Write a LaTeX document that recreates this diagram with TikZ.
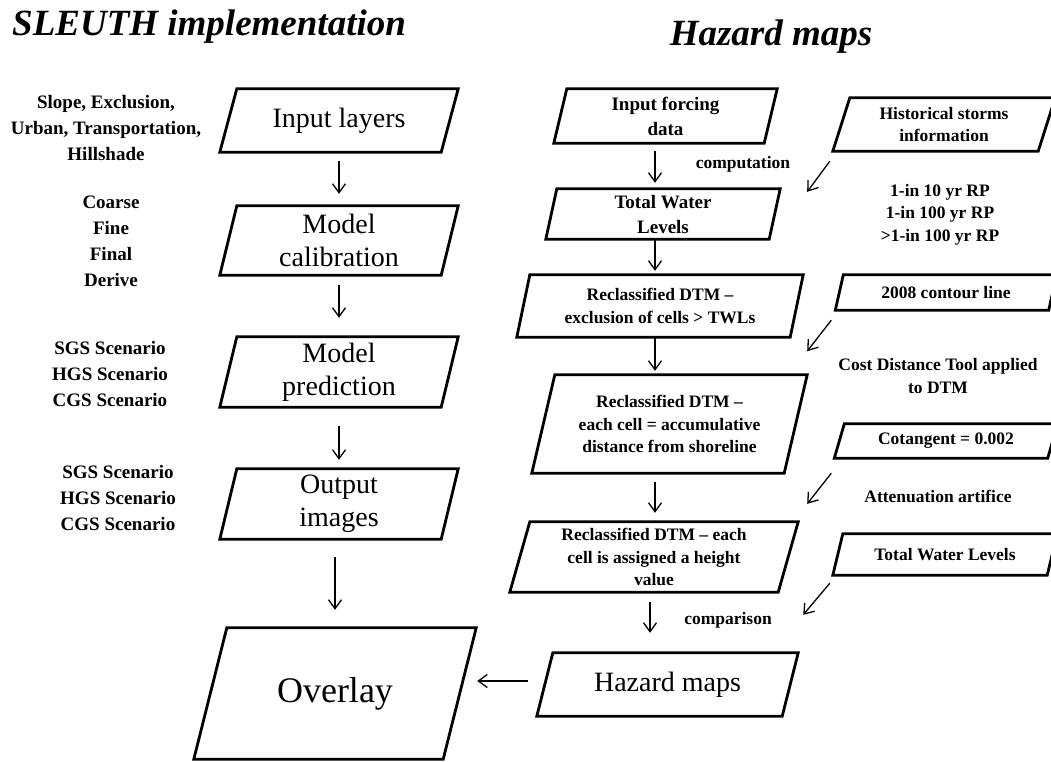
\documentclass[tikz,border=0pt]{standalone}
\usepackage{fontspec}
\setmainfont{Liberation Serif}
\usetikzlibrary{arrows.meta,calc}

\begin{document}
\begin{tikzpicture}[x=1pt,y=-1pt]

\tikzset{box/.style 2 args={minimum width=#1pt,minimum height=#2pt,inner sep=0pt,align=center},
         frame/.style={line width=2.8pt,line join=miter},
         arr/.style={line width=1.3pt,-{Straight Barb[length=9pt,width=13pt]}},
         title/.style={inner sep=0pt,font=\bfseries\itshape\fontsize{37}{40}\selectfont},
         big/.style={font=\fontsize{28}{33}\selectfont},
         huge/.style={font=\fontsize{36}{40}\selectfont},
         lbl/.style={inner sep=0pt,align=center,font=\bfseries\fontsize{19}{26}\selectfont},
         mid/.style={font=\bfseries\fontsize{19}{25}\selectfont},
         note/.style={inner sep=0pt,align=center,font=\bfseries\fontsize{17.5}{22.5}\selectfont}}

\useasboundingbox (0,0) rectangle (1051,761);
\clip (0,0) rectangle (1051,761);

\node[title,anchor=base west] (t1) at (12,35) {SLEUTH implementation};
\node[title,anchor=base] (t2) at (771,45) {Hazard maps};

\node[box={238}{63},big] (lay) at (339,120.5) {Input layers};
\node[box={238}{69},big] (cal) at (339,240.5) {Model\\calibration};
\node[box={238}{70},big] (pred) at (339,372) {Model\\prediction};
\node[box={238}{70},big] (outp) at (339,504) {Output\\images};
\node[box={282}{131},huge] (ovl) at (335,693.5) {Overlay};

\node[lbl] (l1) at (106,128) {Slope, Exclusion,\\Urban, Transportation,\\Hillshade};
\node[lbl] (l2) at (111,241.5) {Coarse\\Fine\\Final\\Derive};
\node[lbl] (l3) at (110,374) {SGS Scenario\\HGS Scenario\\CGS Scenario};
\node[lbl] (l4) at (118,498) {SGS Scenario\\HGS Scenario\\CGS Scenario};

\node[box={223}{54},mid] (frc) at (665.5,116) {Input forcing\\data};
\node[box={234}{50},mid] (twl) at (663,214) {Total Water\\Levels};
\node[box={286}{62},note] (rc1) at (660,306) {Reclassified DTM --\\exclusion of cells > TWLs};
\node[box={275}{98},note] (rc2) at (669.5,424) {Reclassified DTM --\\each cell = accumulative\\distance from shoreline};
\node[box={288}{70},note] (rc3) at (654,557) {Reclassified DTM -- each\\cell is assigned a height\\value};
\node[box={261}{63},big] (haz) at (667.5,684.5) {Hazard maps};

\node[box={222}{53},note] (hist) at (944,124.5) {Historical storms\\information};
\node[box={221}{35},note] (cnt) at (946,292.5) {2008 contour line};
\node[box={223}{34},note] (cot) at (946,441) {Cotangent = 0.002};
\node[box={224}{41},note] (twr) at (945,554.5) {Total Water Levels};

\node[note] (rp) at (940,214.5) {1-in 10 yr RP\\1-in 100 yr RP\\>1-in 100 yr RP};
\node[note] (cdt) at (938,376) {Cost Distance Tool applied\\to DTM};
\node[note] (att) at (938,496) {Attenuation artifice};
\node[note] (cmp) at (743,164) {computation};
\node[note] (cmr) at (728,620) {comparison};

\foreach \n/\s in {lay/17,cal/17,pred/17,outp/17,ovl/33,frc/13,twl/11,rc1/13,rc2/23,rc3/20,haz/16,hist/17,cnt/8,cot/10,twr/10}
  \draw[frame] ($(\n.north west)+(\s,0)$) -- (\n.north east) -- ($(\n.south east)-(\s,0)$) -- (\n.south west) -- cycle;

\draw[arr,shorten <=9pt,shorten >=12pt] (lay.south) -- (cal.north);
\draw[arr,shorten <=10pt,shorten >=19pt] (cal.south) -- (pred.north);
\draw[arr,shorten <=19pt,shorten >=9pt] (pred.south) -- (outp.north);
\draw[arr,shorten <=18pt,shorten >=18pt] (ovl.north |- outp.south) -- (ovl.north);

\coordinate (ax) at (655,0);
\coordinate (bx) at (650,0);
\coordinate (hy) at (0,681);
\draw[arr,shorten <=8pt,shorten >=6pt] (frc.south -| ax) -- (twl.north -| ax);
\draw[arr,shorten >=4pt] (twl.south -| ax) -- (rc1.north -| ax);
\draw[arr,shorten >=4pt] (rc1.south -| ax) -- (rc2.north -| ax);
\draw[arr,shorten <=9pt,shorten >=9pt] (rc2.south -| ax) -- (rc3.north -| ax);
\draw[arr,shorten <=10pt,shorten >=20pt] (rc3.south -| bx) -- (haz.north -| bx);
\draw[arr,shorten <=9pt,shorten >=1pt] (haz.west |- hy) -- (ovl.east |- hy);

\draw[arr] ([shift={(-3,10)}]hist.south west) -- ([shift={(27,3)}]twl.north east);
\draw[arr] ([shift={(-4,10)}]cnt.south west) -- ([shift={(4,14)}]rc1.south east);
\draw[arr] ([shift={(-3,15)}]cot.south west) -- ([shift={(9,-18)}]rc3.north east);
\draw[arr] ([shift={(-3,8)}]twr.south west) -- ([shift={(5,-38)}]haz.north east);

\end{tikzpicture}
\end{document}
